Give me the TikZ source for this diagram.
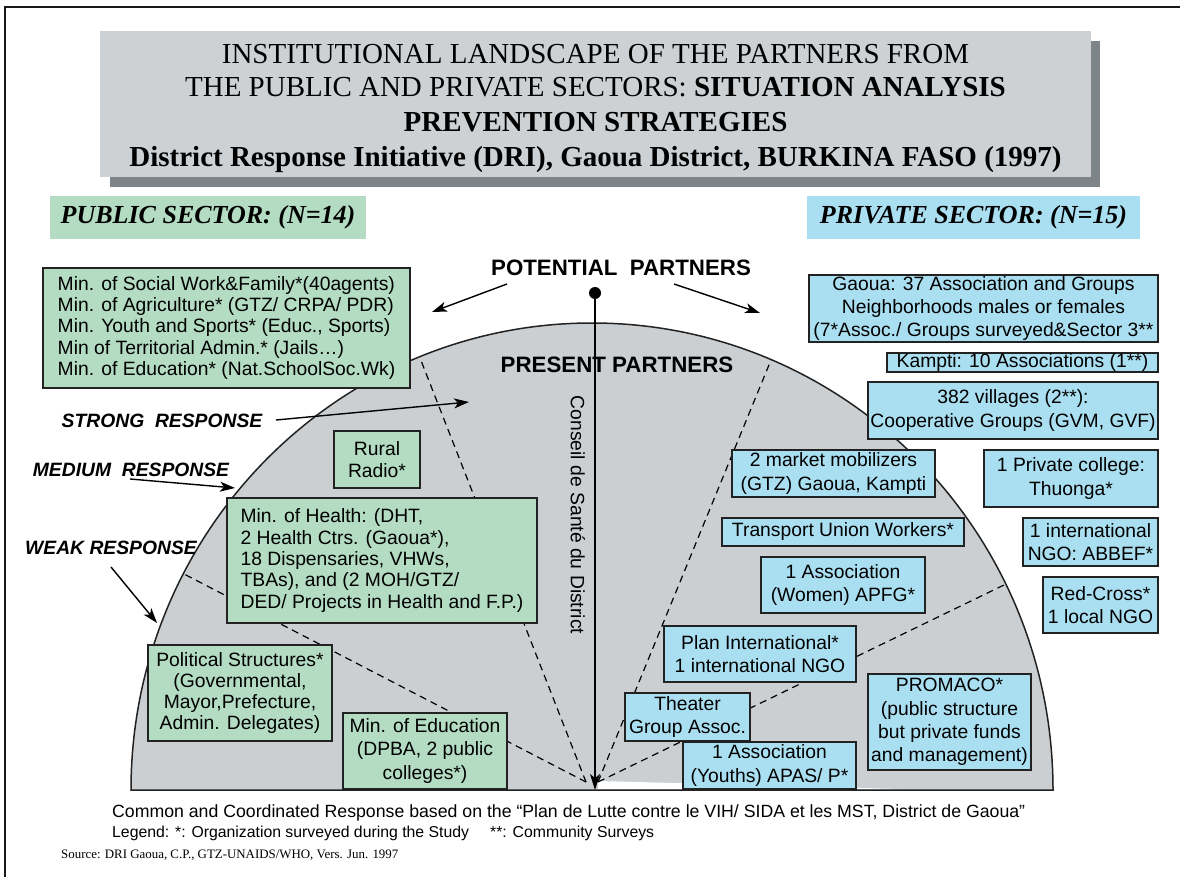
\documentclass[tikz,border=0pt]{standalone}
\usepackage{fontspec}
\setmainfont{Liberation Serif}
\newfontfamily\sansf{Liberation Sans}
\usetikzlibrary{arrows.meta}
\definecolor{areagray}{HTML}{CBCFD2}
\definecolor{titlegray}{HTML}{CDD1D4}
\definecolor{shadowgray}{HTML}{7D8589}
\definecolor{pubgreen}{HTML}{B3DCC3}
\definecolor{privblue}{HTML}{AADFF1}
\definecolor{edge}{HTML}{222222}
\newcommand{\bxA}{\sansf\fontsize{19.3}{21.3}\selectfont}
\newcommand{\bxB}{\sansf\fontsize{19.3}{23.2}\selectfont}
\begin{document}
\begin{tikzpicture}[x=1pt,y=-1pt,
  box/.style={draw=edge, line width=1.5pt, inner sep=0pt, align=center, font=\bxB},
  gbox/.style={box, fill=pubgreen},
  bbox/.style={box, fill=privblue},
  ray/.style={line width=1.2pt, dash pattern=on 7pt off 5pt, black},
  arr/.style={line width=1.4pt, black, -{Stealth[length=15pt,width=10pt,inset=4pt]}},
  resp/.style={font=\sansf\bfseries\itshape\fontsize{19.3}{22}\selectfont, inner sep=0pt},
  ttl/.style={font=\fontsize{29}{34}\selectfont, anchor=base, inner sep=0pt},
  sec/.style={inner sep=0pt, font=\bfseries\itshape\fontsize{26}{30}\selectfont},
  big/.style={inner sep=0pt, font=\sansf\bfseries\fontsize{22.3}{26}\selectfont},
]
\useasboundingbox (0,0) rectangle (1180,877);
\fill[white] (0,0) rectangle (1180,877);
% frame
\draw[line width=2.2pt, black!90] (5,877) -- (5,7) -- (1180,7);

% title
\fill[shadowgray] (110,41) rectangle (1100,187);
\node[fill=titlegray, minimum width=991pt, minimum height=146pt, inner sep=0pt] (titlebox) at (595.5,104) {};
\node[ttl] (t1) at (595.5,63.3) {INSTITUTIONAL LANDSCAPE OF THE PARTNERS FROM};
\node[ttl] (t2) at (595.5,96.7) {THE PUBLIC AND PRIVATE SECTORS: \textbf{SITUATION ANALYSIS}};
\node[ttl, font=\bfseries\fontsize{29}{34}\selectfont] (t3) at (595.5,131.7) {PREVENTION STRATEGIES};
\node[ttl, font=\bfseries\fontsize{29}{34}\selectfont] (t4) at (595.5,166.7) {District Response Initiative (DRI), Gaoua District, BURKINA FASO (1997)};

% sector headers
\node[sec, fill=pubgreen, minimum width=316pt, minimum height=43pt] (pub) at (208,217.5) {PUBLIC SECTOR: (N=14)};
\node[sec, fill=privblue, minimum width=333pt, minimum height=43pt] (priv) at (973.5,217.5) {PRIVATE SECTOR: (N=15)};

% half disc
\fill[areagray] (131,790) arc[start angle=180, end angle=0, x radius=461pt, y radius=467pt] -- cycle;
\fill[white] (598,781) -- (900,789) -- (598,789) -- cycle;
\draw[line width=1.5pt, edge] (131,790) arc[start angle=180, end angle=0, x radius=461pt, y radius=467pt] -- cycle;

% dashed sector rays
\coordinate (oL) at (586,782);
\coordinate (oR) at (598,782);
\coordinate (r1) at (420,358);
\coordinate (r2) at (184,574);
\coordinate (r3) at (771,360);
\coordinate (r4) at (1006,584);
\draw[ray] (oL) -- (r1);
\draw[ray] (oL) -- (r2);
\draw[ray] (oR) -- (r3);
\draw[ray] (oR) -- (r4);

% center labels
\node[big] (pot) at (621,268) {POTENTIAL\ \ PARTNERS};
\node[big] (pres) at (617,365) {PRESENT PARTNERS};
\node[circle, fill=black, inner sep=0pt, minimum size=12pt] (dot) at (595,293) {};
\coordinate (tip) at (595,790);
\draw[line width=1.3pt, -{Stealth[length=16pt,width=10pt,inset=4pt]}] (dot.center) -- (tip);
\node[rotate=-90, font=\bxA, inner sep=0pt] (csd) at (578,515) {Conseil de Santé du District};

\coordinate (pl1) at (507,284);
\coordinate (pl2) at (432,312);
\coordinate (pr1) at (674,284);
\coordinate (pr2) at (760,313);
\draw[arr] (pl1) -- (pl2);
\draw[arr] (pr1) -- (pr2);

% response labels
\node[resp] (strong) at (162,421) {STRONG\ \ RESPONSE};
\node[resp] (medium) at (131,470) {MEDIUM\ \ RESPONSE};
\node[resp] (weak) at (111,548) {WEAK RESPONSE};
\coordinate (s1) at (276,420);
\coordinate (s2) at (469,402);
\coordinate (m1) at (130,479);
\coordinate (m2) at (235,488);
\coordinate (w1) at (111,567);
\coordinate (w2) at (157,623);
\draw[arr] (s1) -- (s2);
\draw[arr] (m1) -- (m2);
\draw[arr] (w1) -- (w2);

% public boxes
\node[gbox, font=\bxA, align=left, minimum width=367pt, minimum height=120pt] (socw) at (226.5,328)
 {Min. of Social Work\&Family*(40agents)\\Min. of Agriculture* (GTZ/ CRPA/ PDR)\\Min. Youth and Sports* (Educ., Sports)\\Min of Territorial Admin.* (Jails…)\\Min. of Education* (Nat.SchoolSoc.Wk)};
\node[gbox, minimum width=86pt, minimum height=57pt, font=\sansf\fontsize{19.3}{22.7}\selectfont] (radio) at (377,459.5) {Rural\\Radio*};
\node[gbox, font=\bxA, align=left, minimum width=310pt, minimum height=125pt] (health) at (382,560.5)
 {Min. of Health: (DHT,\\2 Health Ctrs. (Gaoua*),\\18 Dispensaries, VHWs,\\TBAs), and (2 MOH/GTZ/\\DED/ Projects in Health and F.P.)};
\node[gbox, font=\bxA, minimum width=184pt, minimum height=96pt] (polit) at (240,693)
 {Political Structures*\\(Governmental,\\Mayor,Prefecture,\\Admin. Delegates)};
\node[gbox, minimum width=164pt, minimum height=76pt] (educ) at (425,751)
 {Min. of Education\\(DPBA, 2 public\\colleges*)};

% private boxes
\node[bbox, minimum width=349pt, minimum height=67pt] (gaoua) at (983.5,308.5)
 {Gaoua: 37 Association and Groups\\Neighborhoods males or females\\(7*Assoc./ Groups surveyed\&Sector 3**};
\node[bbox, minimum width=271pt, minimum height=19pt, text height=14pt, text depth=4pt] (kampti) at (1022.5,362.5)
 {Kampti: 10 Associations (1**)};
\node[bbox, minimum width=290pt, minimum height=57pt] (vill) at (1013,410.5)
 {382 villages (2**):\\Cooperative Groups (GVM, GVF)};
\node[bbox, minimum width=174pt, minimum height=57pt] (coll) at (1071,478.5)
 {1 Private college:\\Thuonga*};
\node[bbox, minimum width=135pt, minimum height=48pt] (abbef) at (1090.5,542)
 {1 international\\NGO: ABBEF*};
\node[bbox, minimum width=115pt, minimum height=56pt] (red) at (1100.5,605)
 {Red-Cross*\\1 local NGO};
\node[bbox, minimum width=203pt, minimum height=47pt] (market) at (833.5,473.5)
 {2 market mobilizers\\(GTZ) Gaoua, Kampti};
\node[bbox, minimum width=242pt, minimum height=28pt] (transp) at (843,532)
 {Transport Union Workers*};
\node[bbox, minimum width=164pt, minimum height=56pt] (women) at (843,585)
 {1 Association\\(Women) APFG*};
\node[bbox, minimum width=192pt, minimum height=56pt] (plan) at (760,654)
 {Plan International*\\1 international NGO};
\node[bbox, minimum width=163pt, minimum height=96pt] (promaco) at (949.5,722)
 {PROMACO*\\(public structure\\but private funds\\and management)};
\node[bbox, minimum width=125pt, minimum height=48pt] (theat) at (687.5,717)
 {Theater\\Group Assoc.};
\node[bbox, minimum width=173pt, minimum height=47pt] (youth) at (769.5,765.5)
 {1 Association\\(Youths) APAS/ P*};

% bottom texts
\node[anchor=west, inner sep=0pt, font=\sansf\fontsize{17.7}{20}\selectfont] (common) at (112,813)
 {Common and Coordinated Response based on the “Plan de Lutte contre le VIH/ SIDA et les MST, District de Gaoua”};
\node[anchor=west, inner sep=0pt, font=\sansf\fontsize{15.8}{18}\selectfont] (leg1) at (112,833)
 {Legend: *: Organization surveyed during the Study};
\node[anchor=west, inner sep=0pt, font=\sansf\fontsize{15.8}{18}\selectfont] (leg2) at (490,833)
 {**: Community Surveys};
\node[anchor=west, inner sep=0pt, font=\fontsize{12.9}{16}\selectfont] (src) at (61,855)
 {Source: DRI Gaoua, C.P., GTZ-UNAIDS/WHO, Vers. Jun. 1997};
\end{tikzpicture}
\end{document}
